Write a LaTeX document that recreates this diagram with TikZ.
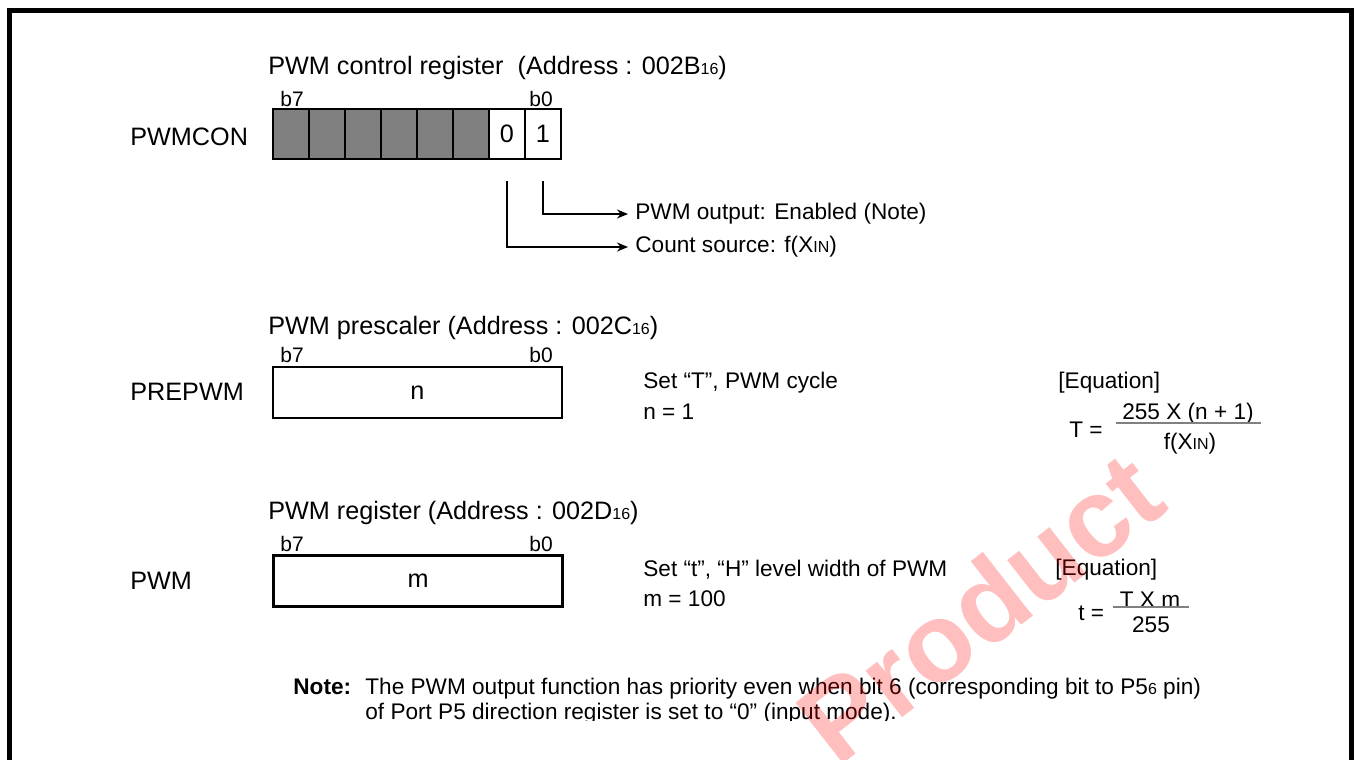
\documentclass[tikz,border=0pt]{standalone}
\usepackage{fontspec}
\setmainfont{Liberation Sans}
\usetikzlibrary{arrows.meta}
\newcommand\smallsub[1]{{\fontsize{8}{8}\selectfont #1}}
\newcommand\xin{X\smallsub{IN}}
\newcommand\bigf{\fontsize{12.6}{15}\selectfont}
\newcommand\smf{\fontsize{11.3}{13.5}\selectfont}
\begin{document}
\begin{tikzpicture}[x=0.5pt,y=-0.5pt,
  every node/.style={font=\bigf, inner sep=0pt},
  txt/.style={anchor=west},
  stxt/.style={anchor=west, font=\smf},
  bitlbl/.style={font=\fontsize{10.5}{12}\selectfont},
  cell/.style={draw, line width=1.2pt, minimum width=18pt, minimum height=25pt, anchor=center},
  graycell/.style={cell, fill=gray},
  regbox/.style={draw, line width=1.2pt, minimum width=144.5pt, minimum height=25.5pt},
  conn/.style={line width=0.8pt, -{Stealth[length=5.5pt,width=4.5pt]}},
  fracline/.style={line width=0.75pt, draw=gray},
  frame/.style={line width=2.5pt, line join=miter},
  wm/.style={text=red, opacity=0.25, font=\fontsize{56}{58}\selectfont\bfseries}
]
\useasboundingbox (0,0) rectangle (1356,760);
\draw[frame] (9.5,760) -- (9.5,10.5) -- (1351.5,10.5) -- (1351.5,760);

% PWMCON
\node[txt] (t1) at (268,68) {PWM control register\ \ (Address : 002B\smallsub{16})};
\node[bitlbl] (b71) at (292,99) {b7};
\node[bitlbl] (b01) at (541,99) {b0};
\node[txt] (pwmcon) at (130,137) {PWMCON};
\foreach \i/\x in {7/291,6/327,5/363,4/399,3/435,2/471}
  \node[graycell] (c\i) at (\x,134) {};
\node[cell] (c1) at (507,134) {0};
\node[cell] (c0) at (543,134) {1};
\node[stxt, inner xsep=3.5pt] (pwmout) at (628,214) {PWM output: Enabled (Note)};
\node[stxt, inner xsep=3.5pt] (cntsrc) at (628,247) {Count source: f(\xin)};
\coordinate (s0) at (543,181);
\coordinate (s1) at (507,181);
\draw[conn] (s0) |- (pwmout.west);
\draw[conn] (s1) |- (cntsrc.west);

% PREPWM
\node[txt] (t2) at (268,328) {PWM prescaler (Address : 002C\smallsub{16})};
\node[bitlbl] (b72) at (292,355) {b7};
\node[bitlbl] (b02) at (541,355) {b0};
\node[txt] (prepwm) at (130,392) {PREPWM};
\node[regbox] (pre) at (417.5,392.5) {n};
\node[stxt] (set1) at (643,383) {Set “T”, PWM cycle};
\node[stxt] (n1) at (643,412) {n = 1};
\node[stxt] (eq1) at (1058,383) {[Equation]};
\node[stxt] (Teq) at (1069,430) {T =};
\node[font=\smf] (num1) at (1188,414) {255 X (n + 1)};
\node[font=\smf] (den1) at (1190,444) {f(\xin)};
\draw[fracline] (1116,423) -- (1261,423);

% PWM
\node[txt] (t3) at (268,513) {PWM register (Address : 002D\smallsub{16})};
\node[bitlbl] (b73) at (292,544) {b7};
\node[bitlbl] (b03) at (541,544) {b0};
\node[txt] (pwm) at (130,581) {PWM};
\node[regbox] (pwmr) at (418,581) {m};
\node[stxt] (set2) at (643,570) {Set “t”, “H” level width of PWM};
\node[stxt] (m1) at (643,599) {m = 100};
\node[stxt] (eq2) at (1055,570) {[Equation]};
\node[stxt] (teq) at (1078,613) {t =};
\node[font=\smf] (num2) at (1150,600) {T X m};
\node[font=\smf] (den2) at (1151,625) {255};
\draw[fracline] (1113,607) -- (1189,607);

% Note
\node[anchor=base west, font=\smf\bfseries] (notehd) at (293,694) {Note:};
\node[anchor=base west, font=\smf] (note1) at (365,694) {The PWM output function has priority even when bit 6 (corresponding bit to P5\smallsub{6} pin)};
\begin{scope}
\clip (0,0) rectangle (1356,720);
\node[anchor=base west, font=\smf] (note2) at (365,719) {of Port P5 direction register is set to “0” (input mode).};
\end{scope}

% watermark
\node[wm, rotate=38] (wmark) at (980,607) {Product};
\end{tikzpicture}
\end{document}
